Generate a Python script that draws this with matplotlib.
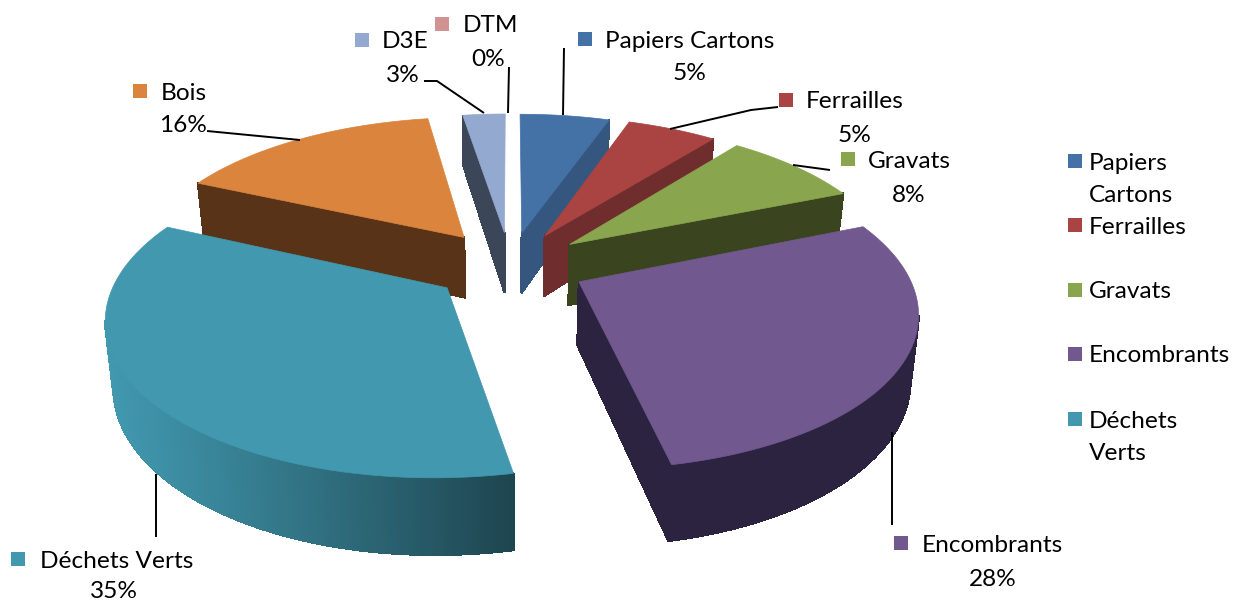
import numpy as np
import matplotlib
matplotlib.use("Agg")
import matplotlib.pyplot as plt

# the data (share of each waste type, %)
categories = ["Papiers Cartons", "Ferrailles", "Gravats", "Encombrants",
              "Déchets Verts", "Bois", "D3E", "DTM"]
values = [5.3, 5.3, 8.2, 28.05, 34.95, 15.69, 2.51, 0.0]
legend_labels = ["Papiers\nCartons", "Ferrailles", "Gravats", "Encombrants", "Déchets\nVerts"]

top_colors = ["#4471A6", "#A94442", "#89A54E", "#71588F", "#4198AF", "#DB843D", "#93A9CF", "#D19392"]
side_colors = ["#34567F", "#6F2D2D", "#3A4520", "#2C2340", "#1E4650", "#583317", "#3B4658", "#8A5F5E"]
explode = [0.225, 0.23, 0.235, 0.235, 0.24, 0.24, 0.225, 0.225]

# projection of the pie, in pixels
cx, cy = 510, 265
R = 326       # horizontal radius
A = 149       # vertical radius
K = 0.17      # perspective
D = 62        # thickness


def project(x, y, z=0.0):
    f = 1 / (1 + K * y)
    return cx + R * x * f * (1 - 0.02 * z), cy - A * y * f + z * D * f


def mix(c1, c2, t):
    c1 = np.array(matplotlib.colors.to_rgb(c1))
    c2 = np.array(matplotlib.colors.to_rgb(c2))
    return tuple(c1 + (c2 - c1) * t)


def outline(start, end, e):
    # slice outline in disc coordinates, clockwise from the apex
    mid = (start + end) / 2
    ox, oy = e * np.sin(mid), e * np.cos(mid)
    n = max(int(np.degrees(end - start)) * 2, 2) + 1
    t = np.linspace(start, end, n)
    xs = np.concatenate([[ox], ox + np.sin(t)])
    ys = np.concatenate([[oy], oy + np.cos(t)])
    return xs, ys


fig, ax = plt.subplots(figsize=(12.34, 6.01), dpi=100)
fig.subplots_adjust(0, 0, 1, 1)
ax.set_xlim(0, 1234)
ax.set_ylim(601, 0)
ax.axis("off")
plt.rcParams["font.family"] = "Lato"
FS = 17.6

edges = np.radians(np.concatenate([[0], np.cumsum(values)]) * 3.6)

# draw from the back to the front
mids = (edges[:-1] + edges[1:]) / 2
order = np.argsort(-np.cos(mids))
for i in order:
    if values[i] <= 0:
        continue
    xs, ys = outline(edges[i], edges[i + 1], explode[i])
    px, py = project(xs, ys)
    bx, by = project(xs, ys, 1.0)
    m = len(px)
    for j in range(m):
        k = (j + 1) % m
        radial = j == 0 or k == 0
        # only the walls that face the viewer
        if px[k] - px[j] >= (-3 if radial else 0):
            continue
        quad_x = [px[j], px[k], bx[k], bx[j]]
        quad_y = [py[j], py[k], by[k], by[j]]
        col = side_colors[i]
        if categories[i] == "Déchets Verts" and not radial:
            # shaded wall, light on the left, dark on the right
            t = np.clip((px[j] - 105) / 405, 0, 1)
            col = mix("#4198AF", side_colors[i], t ** 1.1)
        ax.fill(quad_x, quad_y, color=col, lw=1.0, zorder=2, antialiased=False)
    ax.fill(px, py, color=top_colors[i], lw=0.5, zorder=2)

# leader lines
leaders = {
    "Papiers Cartons": ([564, 563], [48, 115]),
    "Ferrailles": ([778, 751, 670], [107, 110, 129]),
    "Gravats": ([830, 793], [170, 165]),
    "Encombrants": ([892, 892], [525, 432]),
    "Déchets Verts": ([156, 156], [537, 474]),
    "Bois": ([207, 300], [131, 140]),
    "D3E": ([424, 437, 484], [81, 81, 113]),
    "DTM": ([509, 508], [67, 113]),
}
for name in categories:
    lx, ly = leaders[name]
    ax.plot(lx, ly, color="black", lw=1.4, zorder=3, solid_capstyle="butt")

# data labels: (marker x, marker y, name x, percent x, percent y)
label_pos = {
    "Papiers Cartons": (585, 39, 605, 690, 74),
    "Ferrailles": (786, 100, 806, 855, 135),
    "Gravats": (848, 159, 868, 909, 195),
    "Encombrants": (901, 543, 922, 993, 579),
    "Déchets Verts": (18, 559, 40, 114, 591),
    "Bois": (140, 91, 161, 183, 126),
    "D3E": (362, 40, 382, 403, 75),
    "DTM": (442, 24, 463, 488, 59),
}
for i, name in enumerate(categories):
    mx, my, nx, vx, vy = label_pos[name]
    ax.plot(mx, my, "s", color=top_colors[i], ms=10.5, mew=0, zorder=4)
    ax.text(nx, my + 2, name, fontsize=FS, ha="left", va="center", color="black", zorder=4)
    ax.text(vx, vy, "{:.0f}%".format(values[i]), fontsize=FS, ha="center", va="center",
            color="black", zorder=4)

# legend on the right
legend_y = [161, 225, 290, 354, 419]
for i, lab in enumerate(legend_labels):
    ax.plot(1075, legend_y[i], "s", color=top_colors[i], ms=10.5, mew=0)
    for j, line in enumerate(lab.split("\n")):
        ax.text(1089, legend_y[i] + 2 + 32 * j, line, fontsize=FS, ha="left", va="center",
                color="black")

plt.savefig("out.png", dpi=100)
